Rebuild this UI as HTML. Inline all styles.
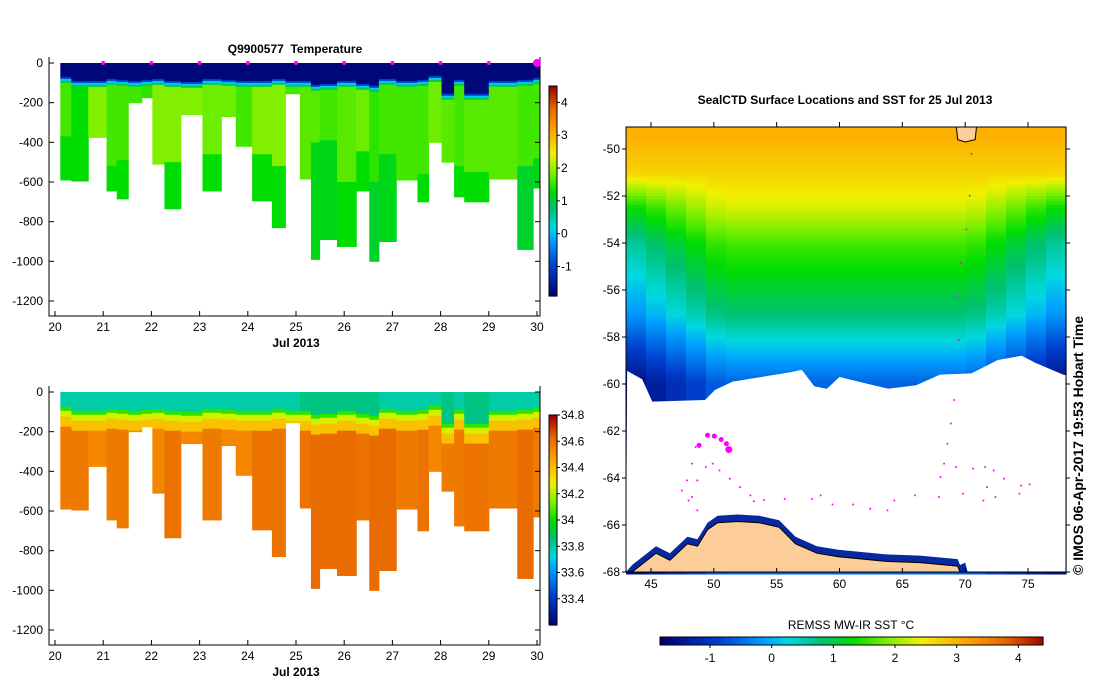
<!DOCTYPE html>
<html><head><meta charset="utf-8"><style>
body{margin:0;background:#fff;}
svg{display:block;font-family:"Liberation Sans",sans-serif;}
text{font-size:12px;fill:#000;}
.b{font-weight:bold;}
</style></head><body>
<svg id="s" width="1099" height="700" xmlns="http://www.w3.org/2000/svg">
<text x="295" y="53" text-anchor="middle" class="b" style="white-space:pre">Q9900577  Temperature</text>
<text x="845" y="104" text-anchor="middle" class="b">SealCTD Surface Locations and SST for 25 Jul 2013</text>
<text x="851" y="629" text-anchor="middle">REMSS MW-IR SST °C</text>
<text transform="translate(1083,575) rotate(-90)" class="b" style="font-size:14px">©  IMOS 06-Apr-2017 19:53 Hobart Time</text>
<g id="g1"></g>
<g id="g2"></g>
<g id="g3"></g>
</svg>
<script>
// ---- section data ----
const colEdges=[0.11,0.34,0.69,1.07,1.28,1.52,1.80,2.02,2.27,2.61,3.06,3.45,3.75,4.09,4.50,4.78,5.08,5.31,5.49,5.85,6.25,6.52,6.72,7.08,7.52,7.75,8.02,8.28,8.49,9.0,9.59,9.92,10.05];
const maxDepth=[590,595,375,645,685,200,175,510,735,260,645,270,420,695,830,155,585,990,890,925,645,1000,900,590,700,400,500,675,700,585,940,630];
const mixedDepth=[85,105,105,95,100,105,100,95,105,110,95,100,105,105,95,105,105,125,120,105,120,130,95,105,100,80,170,100,170,105,100,90];
const splitDepth=[370,300,375,520,490,200,175,330,500,260,460,270,420,460,520,155,545,400,390,600,445,600,460,590,560,400,500,520,550,585,520,480];
const upperT=[1.6,1.3,1.9,1.6,1.6,1.6,1.5,1.9,1.9,1.9,1.8,1.8,1.6,1.9,1.9,1.6,1.7,1.7,1.6,1.7,1.8,1.5,1.6,1.6,1.6,1.8,1.7,1.6,1.7,1.7,1.6,1.6];
const lowerT=[1.3,1.3,1.9,1.3,1.3,1.6,1.5,1.9,1.3,1.9,1.3,1.8,1.6,1.3,1.3,1.6,1.7,1.2,1.2,1.3,1.3,1.1,1.2,1.6,1.3,1.8,1.7,1.3,1.3,1.7,1.1,1.2];
const surfS=[33.8,33.8,33.8,33.8,33.8,33.8,33.8,33.8,33.8,33.8,33.8,33.8,33.8,33.8,33.8,33.8,33.85,33.85,33.85,33.85,33.85,33.85,33.8,33.8,33.8,33.8,33.85,33.8,33.85,33.8,33.8,33.8];
const deepS=[34.58,34.58,34.55,34.58,34.58,34.55,34.55,34.55,34.6,34.55,34.58,34.55,34.55,34.6,34.6,34.55,34.6,34.62,34.62,34.62,34.6,34.62,34.62,34.58,34.6,34.55,34.58,34.58,34.6,34.58,34.62,34.58];
const dayTicks=[20,21,22,23,24,25,26,27,28,29,30];
const depthTicks=[0,-200,-400,-600,-800,-1000,-1200];
const tempCbTicks=[4,3,2,1,0,-1];
const salCbTicks=[34.8,34.6,34.4,34.2,34,33.8,33.6,33.4];
const markerDays=[21,22,23,24,25,26,27,28,29];
// ---- map data ----
const sstBandLat=[-49.5,-51,-52.5,-54,-55.5,-57,-58.5,-60];
const sstBandVal=[3.0,2.7,2.3,1.6,1.2,0.8,0.1,-0.6];
const iceLon=[43.1,44.3,45.1,49.3,50.1,51.5,56.1,57.0,58.0,59.0,60.0,62.7,63.9,66.1,68.0,70.5,72.6,74.5,75.6,77.8,78.9];
const iceLat=[-59.44,-59.8,-60.75,-60.68,-60.25,-59.9,-59.5,-59.4,-60.1,-60.2,-59.7,-60.05,-60.2,-60.05,-59.6,-59.55,-58.98,-58.8,-59.1,-59.6,-59.75];
const coastLon=[43.5,45.4,46.5,47.9,48.7,49.5,50.3,51.9,53.6,55.2,56.5,58.2,59.9,63.7,66.4,69.4,69.6];
const coastLat=[-68,-67.2,-67.5,-66.8,-66.9,-66.2,-65.9,-65.85,-65.9,-66.1,-66.8,-67.2,-67.35,-67.55,-67.6,-67.75,-68];
const trackLon=[70.5,70.36,70.09,69.68,69.41,69.49,69.41,69.13,68.86,68.59,68.32,68.04,69.27,70.63,71.59,72.27,73.09,74.45,75.13,74.32,72.41,71.45,71.73,69.82,67.91,66.0,64.36,63.82,62.45,61.09,59.45,58.5,57.82,55.64,54.0,53.18,52.91,52.09,51.27,50.45,49.91,49.36,48.68,48.27,48.68,47.99,47.45,47.86,48.27,48.55];
const trackLat=[-50.21,-51.99,-53.42,-54.84,-56.27,-58.12,-59.54,-60.68,-61.68,-62.54,-63.39,-63.96,-63.53,-63.6,-63.53,-63.68,-64.03,-64.32,-64.27,-64.67,-64.81,-64.96,-64.39,-64.67,-64.81,-64.74,-64.96,-65.38,-65.31,-65.13,-65.13,-64.74,-64.89,-64.89,-64.93,-64.99,-64.74,-64.39,-64.03,-63.68,-63.39,-63.53,-64.1,-64.81,-65.38,-64.96,-64.53,-64.1,-63.39,-62.68];
const bigLon=[48.82,49.5,50.04,50.59,51.0,51.19];
const bigLat=[-62.61,-62.18,-62.22,-62.36,-62.54,-62.79];
const lonTicks=[45,50,55,60,65,70,75];
const latTicks=[-50,-52,-54,-56,-58,-60,-62,-64,-66,-68];
const sstCbTicks=[-1,0,1,2,3,4];

const NS='http://www.w3.org/2000/svg';
function mk(p,t,a,txt){const e=document.createElementNS(NS,t);for(const k in a)e.setAttribute(k,a[k]);if(txt!==undefined)e.textContent=txt;p.appendChild(e);return e;}
const stops=[[0,[0,0,110]],[0.15,[0,64,208]],[0.27,[0,160,255]],[0.33,[0,216,224]],[0.42,[0,192,112]],[0.5,[0,221,0]],[0.58,[112,238,0]],[0.68,[240,240,0]],[0.8,[255,160,0]],[0.9,[230,100,0]],[1,[160,0,0]]];
function cmap(t){t=Math.max(0,Math.min(1,t));for(let i=1;i<stops.length;i++){if(t<=stops[i][0]){const a=stops[i-1],b=stops[i],f=(t-a[0])/(b[0]-a[0]);return 'rgb('+a[1].map((v,j)=>Math.round(v+(b[1][j]-v)*f)).join(',')+')';}}return 'rgb(160,0,0)';}

function section(g,top,vmin,vmax,cbTicks,isTemp){
  const x0=55,x1=537,L=49,R=540,bot=top+253;
  const X=d=>x0+(d-20)*(x1-x0)/10, Y=m=>top+m*(238/1200);
  const C=v=>cmap((v-vmin)/(vmax-vmin));
  for(let i=0;i<maxDepth.length;i++){
    const xa=X(20+colEdges[i]),w=X(20+colEdges[i+1])-xa+0.5;
    let layers;
    if(isTemp) layers=[[0,mixedDepth[i]-15,-1.8],[mixedDepth[i]-15,mixedDepth[i]-5,-1.0],[mixedDepth[i]-5,mixedDepth[i]+5,0.1],[mixedDepth[i]+5,mixedDepth[i]+15,0.9],[mixedDepth[i]+15,splitDepth[i],upperT[i]],[splitDepth[i],maxDepth[i],lowerT[i]]];
    else layers=[[0,mixedDepth[i]-10,surfS[i]],[mixedDepth[i]-10,mixedDepth[i]+10,34.05],[mixedDepth[i]+10,mixedDepth[i]+40,34.25],[mixedDepth[i]+40,Math.min(maxDepth[i],mixedDepth[i]+90),34.4],[mixedDepth[i]+90,maxDepth[i],deepS[i]]];
    layers.forEach(l=>{const a=l[0],b=Math.min(l[1],maxDepth[i]);if(b<=a)return;
      const r=mk(g,'rect',{x:xa,y:Y(a),width:w,height:Y(b)-Y(a)+0.5,fill:C(l[2])});
      
      });
  }
  mk(g,'path',{d:`M${L},${top-6}V${bot}H${R}V${top-6}`,fill:'none',stroke:'#000'});
  dayTicks.forEach(d=>{const x=X(d);mk(g,'line',{x1:x,x2:x,y1:bot,y2:bot-5,stroke:'#000'});
    const t=mk(g,'text',{x:x,y:bot+15,'text-anchor':'middle'},d);
    
    });
  const xl=mk(g,'text',{x:X(25),y:bot+31,'text-anchor':'middle',class:'b'},'Jul 2013');
  
  
  depthTicks.forEach(v=>{const y=Y(-v);mk(g,'line',{x1:L,x2:L+5,y1:y,y2:y,stroke:'#000'});mk(g,'line',{x1:R,x2:R-5,y1:y,y2:y,stroke:'#000'});
    const t=mk(g,'text',{x:L-6,y:y+4,'text-anchor':'end'},v);
    
    });
  const cx=549,cw=8,ct=top+23,cb=top+233;
  for(let k=0;k<105;k++){const y=ct+k*(cb-ct)/105;mk(g,'rect',{x:cx,y:y,width:cw,height:(cb-ct)/105+0.6,fill:cmap(1-k/105)});}
  mk(g,'rect',{x:cx,y:ct,width:cw,height:cb-ct,fill:'none',stroke:'#000'});
  cbTicks.forEach(v=>{const y=cb-(v-vmin)/(vmax-vmin)*(cb-ct);mk(g,'line',{x1:cx+cw,x2:cx+cw+3,y1:y,y2:y,stroke:'#000'});
    const t=mk(g,'text',{x:cx+cw+4,y:y+4},v);
    
    });
  return X;
}
const g1=document.getElementById('g1'),g2=document.getElementById('g2');
const Xs=section(g1,63,-1.9,4.5,tempCbTicks,true);
section(g2,392,33.2,34.8,salCbTicks,false);
markerDays.forEach(d=>{const c=mk(g1,'circle',{cx:Xs(d),cy:63,r:2,fill:'#f0f'});
  
  });
const bm=mk(g1,'circle',{cx:Xs(30),cy:63,r:4,fill:'#f0f'});



// ---- map ----
const g3=document.getElementById('g3');
const mL=626,mR=1066,mT=127,mB=572;
const MX=lon=>651+(lon-45)*(1028-651)/30, MY=lat=>149+(-50-lat)*(572-149)/18;
const SC=v=>cmap((v+1.8)/6.2);
function sstAt(lat){
  if(lat>=sstBandLat[0])return sstBandVal[0];
  if(lat<=sstBandLat[sstBandLat.length-1])return sstBandVal[sstBandVal.length-1];
  for(let i=1;i<sstBandLat.length;i++){if(lat>=sstBandLat[i]){const f=(sstBandLat[i-1]-lat)/(sstBandLat[i-1]-sstBandLat[i]);return sstBandVal[i-1]+(sstBandVal[i]-sstBandVal[i-1])*f;}}
}
const stripH=3,nSeg=22,segW=(mR-mL)/nSeg;
for(let y=mT;y<mB;y+=stripH){
  const lat=-50-(y+stripH/2-149)*18/423;
  const v=sstAt(lat);
  for(let s=0;s<nSeg;s++){
    const xc=(s+0.5)/nSeg;
    // cooler flanks (left/right edges) below -51.5
    const edge=Math.max(0,1-Math.min(xc,1-xc)/0.22);
    const cool=lat<-51?edge*1.1*Math.min(1,(-51-lat)/1.5):0;
    const r=mk(g3,'rect',{x:mL+s*segW,y:y,width:segW+0.6,height:stripH+0.5,fill:SC(v-cool)});
    
    
  }
}
let d='M'+MX(iceLon[0])+','+MY(iceLat[0]);
for(let i=1;i<iceLon.length;i++)d+='L'+MX(iceLon[i]).toFixed(1)+','+MY(iceLat[i]).toFixed(1);
d+=`L${mR},${MY(iceLat[iceLat.length-1])}L${mR},${mB}L${mL},${mB}Z`;
const ice=mk(g3,'path',{d:d,fill:'#fff'});


let cd='M'+mL+','+mB;
coastLon.forEach((lo,i)=>{cd+='L'+MX(lo).toFixed(1)+','+(MY(coastLat[i])-7).toFixed(1);});
cd+=`L${MX(70)},${MY(-67.6)}L${MX(70.2)},${mB}Z`;
const cb=mk(g3,'path',{d:cd,fill:'#0828a0'});


let ld='M'+MX(coastLon[0])+','+mB;
coastLon.forEach((lo,i)=>{ld+='L'+MX(lo).toFixed(1)+','+MY(coastLat[i]).toFixed(1);});
ld+='Z';
const land=mk(g3,'path',{d:ld,fill:'#fccc99',stroke:'#000','stroke-width':1});


const isl=mk(g3,'path',{d:`M${MX(69.3)},${mT}L${MX(70.9)},${mT}L${MX(70.8)},${MY(-49.6)}L${MX(70.0)},${MY(-49.7)}L${MX(69.4)},${MY(-49.6)}Z`,fill:'#fccc99',stroke:'#000'});


trackLon.forEach((lo,i)=>{const c=mk(g3,'circle',{cx:MX(lo),cy:MY(trackLat[i]),r:1,fill:'#f0f'});
  
  });
bigLon.forEach((lo,i)=>{const c=mk(g3,'circle',{cx:MX(lo),cy:MY(bigLat[i]),r:i==bigLon.length-1?3.5:2.5,fill:'#f0f'});
  
  });
mk(g3,'rect',{x:mL,y:mT,width:mR-mL,height:mB-mT,fill:'none',stroke:'#000'});
lonTicks.forEach(lo=>{const x=MX(lo);mk(g3,'line',{x1:x,x2:x,y1:mB,y2:mB-4,stroke:'#000'});mk(g3,'line',{x1:x,x2:x,y1:mT,y2:mT-5,stroke:'#000'});
  const t=mk(g3,'text',{x:x,y:mB+16,'text-anchor':'middle'},lo);
  
  });
latTicks.forEach(la=>{const y=MY(la);mk(g3,'line',{x1:mL,x2:mL-4,y1:y,y2:y,stroke:'#000'});mk(g3,'line',{x1:mR,x2:mR+4,y1:y,y2:y,stroke:'#000'});
  const t=mk(g3,'text',{x:mL-6,y:y+4,'text-anchor':'end'},la);
  
  });
const bx0=660,bx1=1043,by=637,bh=8,smin=-1.81,smax=4.4;
for(let k=0;k<128;k++){const x=bx0+k*(bx1-bx0)/128;mk(g3,'rect',{x:x,y:by,width:(bx1-bx0)/128+0.6,height:bh,fill:cmap(k/128)});}
mk(g3,'rect',{x:bx0,y:by,width:bx1-bx0,height:bh,fill:'none',stroke:'#000'});
sstCbTicks.forEach(v=>{const x=bx0+(v-smin)/(smax-smin)*(bx1-bx0);mk(g3,'line',{x1:x,x2:x,y1:by+bh,y2:by+bh+3,stroke:'#000'});
  const t=mk(g3,'text',{x:x,y:by+bh+17,'text-anchor':'middle'},v);
  
  });
</script>
</body></html>
